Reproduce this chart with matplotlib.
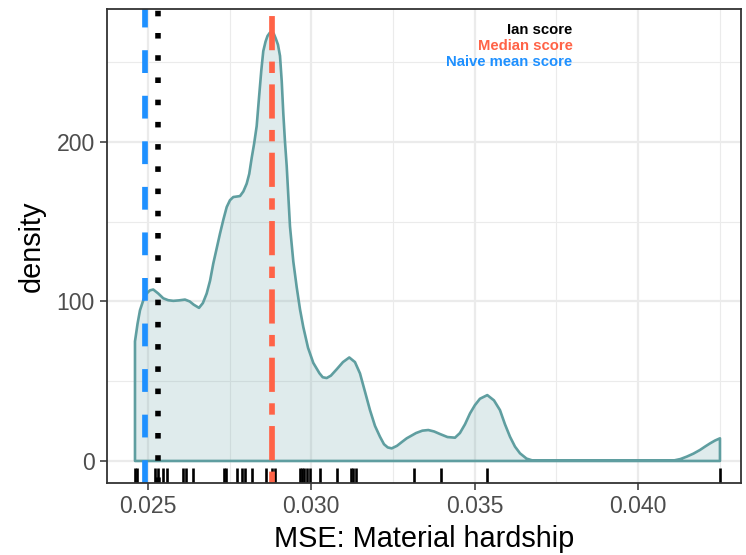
import numpy as np
import matplotlib
matplotlib.use("Agg")
import matplotlib.pyplot as plt
from matplotlib.ticker import FixedLocator

plt.rcParams['font.family'] = ['Liberation Sans', 'DejaVu Sans']

# density curve (MSE, density)
dens_x = [0.024602, 0.024680, 0.024755, 0.024860, 0.024960, 0.025060, 0.025162,
          0.025315, 0.025468, 0.025620, 0.025775, 0.025950, 0.026133, 0.026280,
          0.026400, 0.026562, 0.026680, 0.026797, 0.026900, 0.026999, 0.027100,
          0.027205, 0.027310, 0.027410, 0.027510, 0.027612, 0.027717, 0.027817,
          0.027920, 0.028022, 0.028100, 0.028175, 0.028250, 0.028328, 0.028400,
          0.028470, 0.028530, 0.028600, 0.028660, 0.028730, 0.028787, 0.028850,
          0.028910, 0.028980, 0.029042, 0.029095, 0.029143, 0.029195, 0.029247,
          0.029300, 0.029348, 0.029450, 0.029553, 0.029655, 0.029755, 0.029900,
          0.030061, 0.030250, 0.030350, 0.030471, 0.030600, 0.030778, 0.030970,
          0.031163, 0.031337, 0.031491, 0.031650, 0.031797, 0.031950, 0.032103,
          0.032226, 0.032340, 0.032462, 0.032624, 0.032780, 0.032921, 0.033206,
          0.033400, 0.033582, 0.033760, 0.033940, 0.034170, 0.034400, 0.034550,
          0.034706, 0.034859, 0.035010, 0.035163, 0.035389, 0.035593, 0.035777,
          0.035930, 0.036084, 0.036237, 0.036390, 0.036590, 0.036788, 0.041074,
          0.041300, 0.041494, 0.041700, 0.041901, 0.042054, 0.042207, 0.042360,
          0.042513]
dens_y = [75, 86, 94.5, 101, 105, 107, 107.5,
          105, 102, 100.8, 100.4, 100.7, 101.2, 100,
          98, 96, 99, 105, 113, 123.8, 133,
          142.6, 151.5, 159.2, 163.5, 165.5, 165.8, 166.1,
          169, 173.9, 180, 190, 199, 210, 228,
          245, 257, 263, 266.5, 268.5, 269, 268,
          265, 261, 254, 238, 218, 200, 185,
          165, 147, 125, 109, 95, 84, 71,
          61.5, 55, 52.5, 52, 53.5, 57.5, 62,
          64.9, 62, 54.9, 43, 31.9, 22, 15.2,
          10.5, 8.5, 7.9, 9.5, 12, 14.2, 17.5,
          19, 19.4, 18.5, 16.9, 15, 14.6, 17.5,
          23, 29.8, 35, 39, 41.3, 38, 31.9,
          23, 15.2, 9, 4.8, 1.5, 0.2, 0.2,
          1.2, 2.7, 4.6, 6.9, 9, 11, 12.8,
          14.2]

# individual scores shown as rug
rug_x = [0.024602, 0.024663, 0.024908, 0.025214, 0.025306, 0.025459, 0.025582,
         0.026071, 0.026163, 0.026377, 0.027327, 0.027388, 0.027724, 0.027878,
         0.027969, 0.028184, 0.028612, 0.028796, 0.028888, 0.029653, 0.029714,
         0.029776, 0.029867, 0.029959, 0.030265, 0.030786, 0.031214, 0.031276,
         0.031367, 0.033143, 0.033969, 0.035378, 0.042510]

# reference scores
ian_score = 0.025306
median_score = 0.028787
naive_mean_score = 0.024908

fig = plt.figure(figsize=(7.46, 5.55), dpi=100)
ax = fig.add_axes([107 / 746, 1 - 482.5 / 555, 634 / 746, 473.5 / 555])

ax.set_xlim(0.023745, 0.043157)
ax.set_ylim(-13.5, 283.4)

ax.xaxis.set_major_locator(FixedLocator([0.025, 0.030, 0.035, 0.040]))
ax.xaxis.set_minor_locator(FixedLocator([0.0275, 0.0325, 0.0375, 0.0425]))
ax.yaxis.set_major_locator(FixedLocator([0, 100, 200]))
ax.yaxis.set_minor_locator(FixedLocator([50, 150, 250]))
ax.set_xticklabels(['0.025', '0.030', '0.035', '0.040'])

ax.grid(which='major', color='#EBEBEB', linewidth=1.6, zorder=0)
ax.grid(which='minor', color='#EBEBEB', linewidth=0.8, zorder=0)
ax.set_axisbelow(True)

# density (full outline, as in the original)
poly_x = [dens_x[0]] + dens_x + [dens_x[-1]]
poly_y = [0] + dens_y + [0]
ax.fill(poly_x, poly_y, facecolor=(95 / 255, 158 / 255, 160 / 255, 0.2),
        edgecolor='#5F9EA0', linewidth=1.9, zorder=2, joinstyle='round')

# rug
ax.vlines(rug_x, 0, 0.03, transform=ax.get_xaxis_transform(), color='black',
          linewidth=1.9, zorder=3)

# reference lines
ax.axvline(naive_mean_score, color='#1E90FF', linewidth=4.1, dashes=(4, 4), zorder=4)
ax.axvline(ian_score, color='black', linewidth=4.0, dashes=(1, 3), zorder=4)
ax.axvline(median_score, color='#FF6347', linewidth=4.1, dashes=(2, 2, 6, 2), zorder=4)

ax.text(0.038, 270, 'Ian score', color='black', ha='right', va='center',
        fontsize=10.7, fontweight='bold', zorder=5)
ax.text(0.038, 260, 'Median score', color='#FF6347', ha='right', va='center',
        fontsize=10.7, fontweight='bold', zorder=5)
ax.text(0.038, 250, 'Naive mean score', color='#1E90FF', ha='right', va='center',
        fontsize=10.7, fontweight='bold', zorder=5)

for s in ax.spines.values():
    s.set_color('#333333')
    s.set_linewidth(1.3)
    s.set_zorder(6)

ax.tick_params(which='major', length=4.8, width=1.1, color='#333333',
               labelcolor='#4D4D4D', labelsize=16.6, pad=4)
ax.tick_params(which='minor', length=0)

ax.set_xlabel('MSE: Material hardship', fontsize=20.8, labelpad=5)
ax.set_ylabel('density', fontsize=20.8, labelpad=8)

fig.savefig('out.png', dpi=100)
